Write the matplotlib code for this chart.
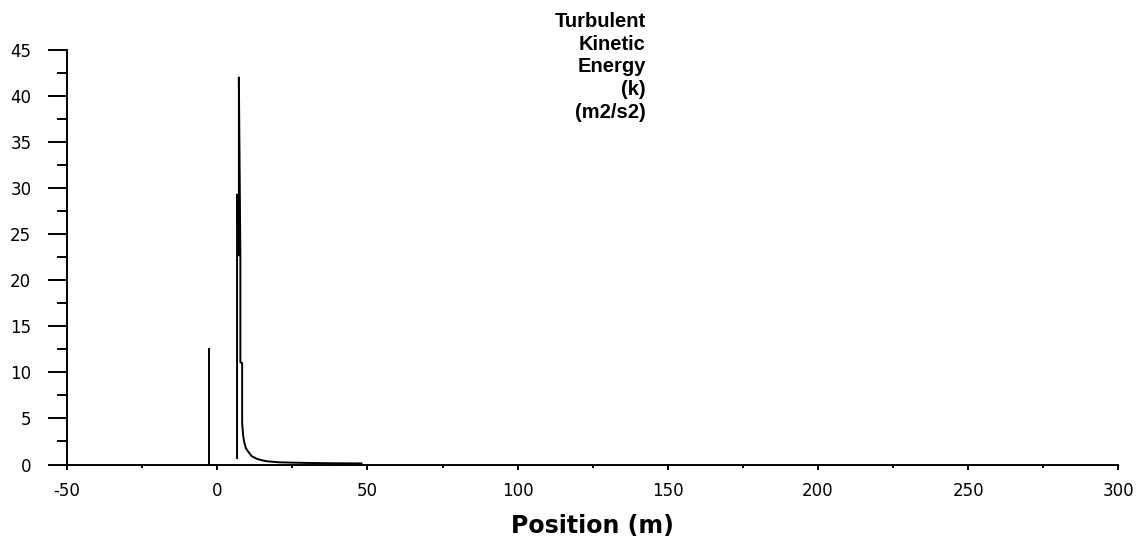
import numpy as np
import matplotlib
matplotlib.use('Agg')
from matplotlib import pyplot as plt
from matplotlib.ticker import MultipleLocator

plt.rcParams['axes.unicode_minus'] = False

# values (position in m, k in m2/s2)
spike_x = [-2.8, -2.8]
spike_k = [0.0, 12.5]

wall_x = [6.6, 6.6, 7.2, 7.2, 7.7, 7.7, 8.3, 8.3, 8.6, 9.0, 9.5, 10.4, 11.5, 13.3,
          15.0, 16.6, 20.4, 25.4, 30.0, 35.0, 40.0, 48.0]
wall_k = [0.7, 29.3, 22.7, 42.0, 22.7, 11.1, 11.0, 4.5, 3.2, 2.4, 1.8, 1.35, 0.9, 0.6,
          0.45, 0.35, 0.24, 0.2, 0.17, 0.15, 0.13, 0.12]

title_lines = ['Turbulent', 'Kinetic', 'Energy', '(k)', '(m2/s2)']

fig = plt.figure(figsize=(11.48, 5.37), dpi=100)
ax = fig.add_axes([0.0584, 0.135, 0.9158, 0.772])

ax.plot(spike_x, spike_k, color='black', lw=1.4)
ax.plot(wall_x, wall_k, color='black', lw=1.4)

ax.set_xlim(-50, 300)
ax.set_ylim(0, 45)
ax.xaxis.set_major_locator(MultipleLocator(50))
ax.xaxis.set_minor_locator(MultipleLocator(25))
ax.yaxis.set_major_locator(MultipleLocator(5))
ax.yaxis.set_minor_locator(MultipleLocator(2.5))

for s in ['top', 'right']:
    ax.spines[s].set_visible(False)
for s in ['left', 'bottom']:
    ax.spines[s].set_linewidth(1.4)

ax.tick_params(axis='y', which='major', length=13.7, width=1.4, pad=12, labelsize=12)
ax.tick_params(axis='y', which='minor', length=7.2, width=1.4)
ax.tick_params(axis='x', which='major', length=3.6, width=1.4, pad=9, labelsize=12)
ax.tick_params(axis='x', which='minor', length=2.2, width=1.4)

ax.set_xlabel('Position (m)', fontsize=17, fontweight='bold', labelpad=10)

fig.text(0.5625, 0.978, '\n'.join(title_lines), ha='right', va='top',
         family='Liberation Sans', fontweight='bold', fontsize=14.5, linespacing=1.25)

fig.savefig('out.png', dpi=100)
